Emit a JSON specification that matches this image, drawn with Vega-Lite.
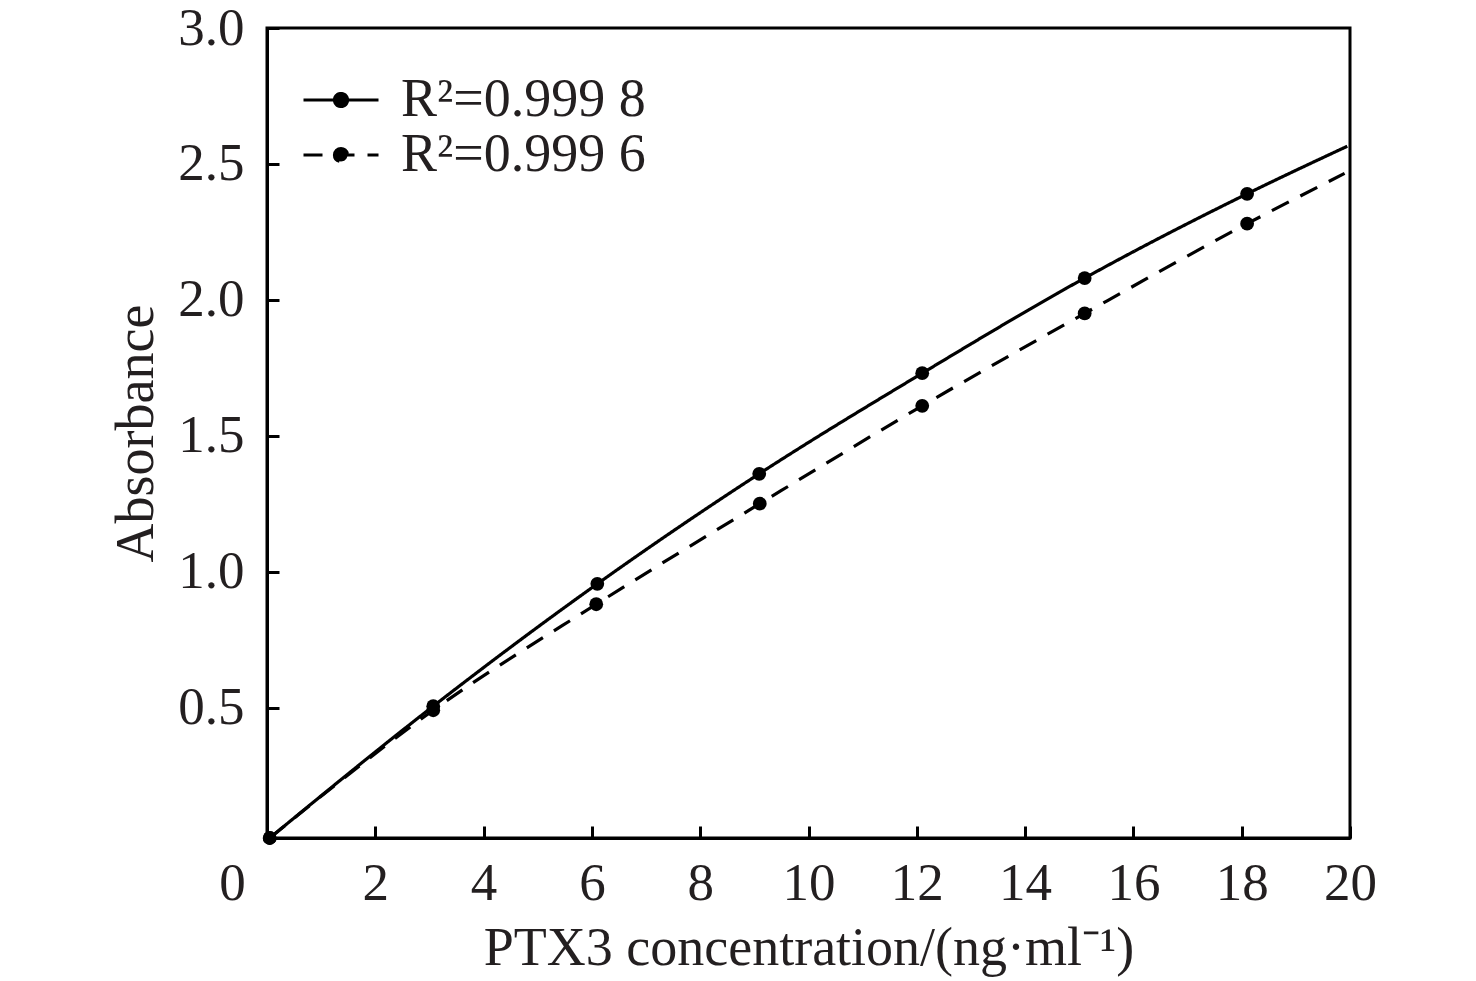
{
  "$schema": "https://vega.github.io/schema/vega-lite/v6.json",
  "autosize": "none",
  "padding": {"left": 267, "top": 28, "right": 126, "bottom": 143},
  "width": 1083,
  "height": 810,
  "background": "white",
  "config": {
    "font": "Liberation Serif",
    "view": {"stroke": "black", "strokeWidth": 3},
    "axis": {
      "grid": false,
      "domainColor": "black",
      "domainWidth": 3,
      "tickColor": "black",
      "tickWidth": 3,
      "tickSize": -12,
      "labelFont": "Liberation Serif",
      "labelFontSize": 53,
      "labelColor": "#231f20",
      "titleFont": "Liberation Serif",
      "titleFontSize": 54,
      "titleFontWeight": "normal",
      "titleColor": "#231f20"
    },
    "legend": {
      "labelFont": "Liberation Serif",
      "labelFontSize": 54,
      "labelColor": "#231f20",
      "labelLimit": 0
    }
  },
  "data": {
    "values": [
      {"series": "R²=0.999 8", "conc": 0.05, "abs": 0.02, "marker": true},
      {"series": "R²=0.999 8", "conc": 3.07, "abs": 0.505, "marker": true},
      {"series": "R²=0.999 8", "conc": 6.1, "abs": 0.955, "marker": true},
      {"series": "R²=0.999 8", "conc": 9.09, "abs": 1.36, "marker": true},
      {"series": "R²=0.999 8", "conc": 12.1, "abs": 1.73, "marker": true},
      {"series": "R²=0.999 8", "conc": 15.1, "abs": 2.08, "marker": true},
      {"series": "R²=0.999 8", "conc": 18.1, "abs": 2.39, "marker": true},
      {"series": "R²=0.999 8", "conc": 19.95, "abs": 2.565, "marker": false},
      {"series": "R²=0.999 6", "conc": 0.05, "abs": 0.02, "marker": true},
      {"series": "R²=0.999 6", "conc": 3.07, "abs": 0.49, "marker": true},
      {"series": "R²=0.999 6", "conc": 6.08, "abs": 0.88, "marker": true},
      {"series": "R²=0.999 6", "conc": 9.1, "abs": 1.25, "marker": true},
      {"series": "R²=0.999 6", "conc": 12.1, "abs": 1.61, "marker": true},
      {"series": "R²=0.999 6", "conc": 15.1, "abs": 1.95, "marker": true},
      {"series": "R²=0.999 6", "conc": 18.1, "abs": 2.28, "marker": true},
      {"series": "R²=0.999 6", "conc": 19.9, "abs": 2.465, "marker": false}
    ]
  },
  "encoding": {
    "x": {
      "field": "conc",
      "type": "quantitative",
      "title": "PTX3 concentration/(ng·ml⁻¹)",
      "scale": {"domain": [0, 20], "nice": false, "zero": false},
      "axis": {
        "values": [0, 2, 4, 6, 8, 10, 12, 14, 16, 18, 20],
        "labelPadding": 31,
        "labelFlush": false,
        "labelOffset": {"condition": {"test": "datum.value == 0", "value": -35}, "value": 0},
        "titlePadding": 11
      }
    },
    "y": {
      "field": "abs",
      "type": "quantitative",
      "title": "Absorbance",
      "scale": {"domain": [0.02, 3], "nice": false, "zero": false},
      "axis": {
        "values": [0.5, 1, 1.5, 2, 2.5, 3],
        "format": ".1f",
        "labelPadding": 35,
        "labelFlush": false,
        "titlePadding": 14
      }
    }
  },
  "layer": [
    {
      "mark": {"type": "line", "interpolate": "monotone", "color": "black", "strokeWidth": 3.2},
      "encoding": {
        "strokeDash": {
          "field": "series",
          "type": "nominal",
          "scale": {"domain": ["R²=0.999 8", "R²=0.999 6"], "range": [[1, 0], [19, 13]]},
          "legend": {
            "title": null,
            "orient": "none",
            "legendX": 47,
            "legendY": 45,
            "padding": 0,
            "rowPadding": 1,
            "symbolType": "M-3.75,0H3.75M-0.65,0A0.65,0.65,0,1,1,0.65,0A0.65,0.65,0,1,1,-0.65,0Z",
            "symbolSize": 400,
            "symbolStrokeWidth": 3.2,
            "symbolStrokeColor": "black",
            "symbolFillColor": "black",
            "labelOffset": 33,
            "encode": {"symbols": {"update": {"fill": {"value": "black"}, "stroke": {"value": "black"}}}}
          }
        }
      }
    },
    {
      "transform": [{"filter": "datum.marker"}],
      "mark": {"type": "point", "filled": true, "size": 190, "color": "black", "opacity": 1}
    }
  ]
}
